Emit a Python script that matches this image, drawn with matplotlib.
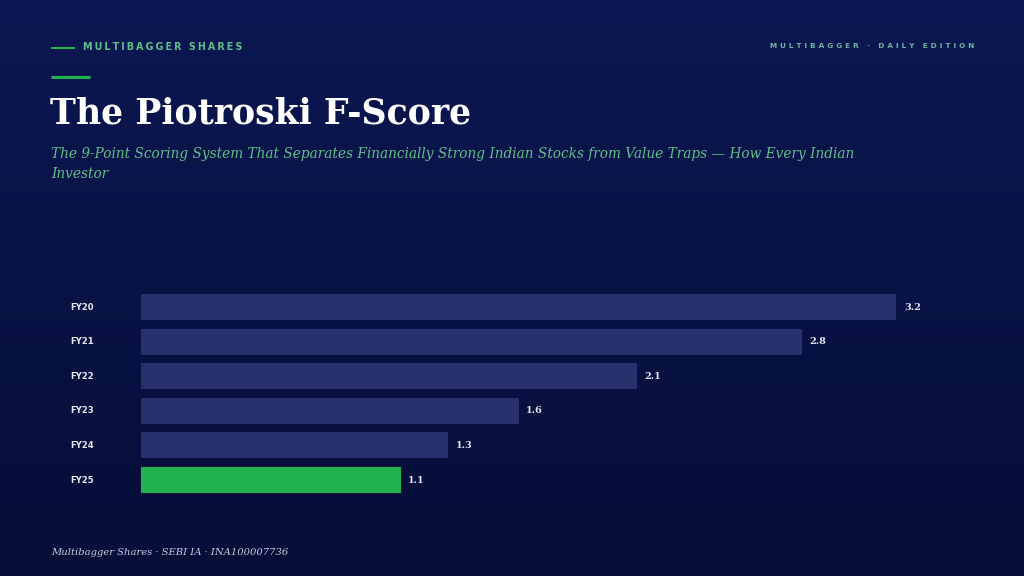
import matplotlib
matplotlib.use("Agg")
import matplotlib.pyplot as plt
import numpy as np
from matplotlib.colors import LinearSegmentedColormap
from matplotlib.transforms import ScaledTranslation

categories = ["FY20", "FY21", "FY22", "FY23", "FY24", "FY25"]
values = [3.2, 2.8, 2.1, 1.6, 1.3, 1.1]
highlight = "FY25"

W, H = 1024, 576
fig = plt.figure(figsize=(W / 100, H / 100), dpi=100)

# background gradient
bg = fig.add_axes([0, 0, 1, 1])
cmap = LinearSegmentedColormap.from_list("bg", ["#0b1752", "#060e38"])
grad = np.linspace(0, 1, 256).reshape(-1, 1)
bg.imshow(grad, aspect="auto", cmap=cmap, extent=[0, 1, 0, 1], origin="upper")
bg.set_xlim(0, 1)
bg.set_ylim(0, 1)
bg.axis("off")

def fx(px):
    return px / W

def fy(py):
    return 1 - py / H

# header
bg.plot([fx(51), fx(75)], [fy(48), fy(48)], color="#22b350", lw=1.5, solid_capstyle="butt")
bg.plot([fx(51), fx(90)], [fy(76.5), fy(76.5)], color="#22b350", lw=2.2, solid_capstyle="butt")

def spaced(s, sep="\u2009"):
    return sep.join(list(s))

bg.text(fx(83), fy(47), spaced("MULTIBAGGER SHARES", "\u200a\u200a"), color="#5fbf8a",
        fontsize=6.9, fontweight="bold", family="DejaVu Sans", va="center", ha="left")
bg.text(fx(974), fy(46), spaced("MULTIBAGGER · DAILY EDITION", "\u2009\u2009"), color="#6fb7a0",
        fontsize=5.25, fontweight="bold", family="DejaVu Sans", va="center", ha="right")

bg.text(fx(50), fy(124), "The Piotroski F-Score", color="white", fontsize=25,
        fontweight="bold", family="DejaVu Serif", va="baseline", ha="left")
bg.text(fx(51), fy(158), "The 9-Point Scoring System That Separates Financially Strong Indian Stocks from Value Traps — How Every Indian",
        color="#5fbf8a", fontsize=9.8, style="italic", family="DejaVu Serif", va="baseline", ha="left")
bg.text(fx(51), fy(178), "Investor",
        color="#5fbf8a", fontsize=9.8, style="italic", family="DejaVu Serif", va="baseline", ha="left")

bg.text(fx(51), fy(555), "Multibagger Shares · SEBI IA · INA100007736", color="#c8cde0",
        fontsize=7.2, style="italic", family="DejaVu Serif", va="baseline", ha="left")

# chart axes
left_px, right_px = 141, 141 + 236 * 3.6
top_px, bot_px = 289.7, 497.3
ax = fig.add_axes([fx(left_px), fy(bot_px), (right_px - left_px) / W, (bot_px - top_px) / H])
ax.set_facecolor("none")
y = np.arange(len(categories))
colors = ["#22b350" if c == highlight else "#28316d" for c in categories]
ax.barh(y, values, height=0.75, color=colors)
ax.set_xlim(0, 3.6)
ax.set_ylim(len(categories) - 0.5, -0.5)
for yi, v in zip(y, values):
    ax.annotate(f"{v:.1f}", (v, yi), xytext=(5.5, 0), textcoords="offset points",
                color="#e6e8f0", fontsize=7, fontweight="bold", family="DejaVu Serif",
                va="center", ha="left")
ax.set_yticks(y)
ax.set_yticklabels(categories, fontfamily="DejaVu Sans", fontweight="bold",
                   fontsize=6.1, color="#e6e8f0", ha="left", va="center")
shift = ScaledTranslation(0, 2.5 / 100, fig.dpi_scale_trans)
for lab in ax.get_yticklabels():
    lab.set_transform(lab.get_transform() + shift)
ax.set_xticks([])
ax.tick_params(axis="y", length=0, pad=(141 - 70) * 72 / 100)
for s in ax.spines.values():
    s.set_visible(False)

fig.savefig("out.png", dpi=100, facecolor="#0a1448")
